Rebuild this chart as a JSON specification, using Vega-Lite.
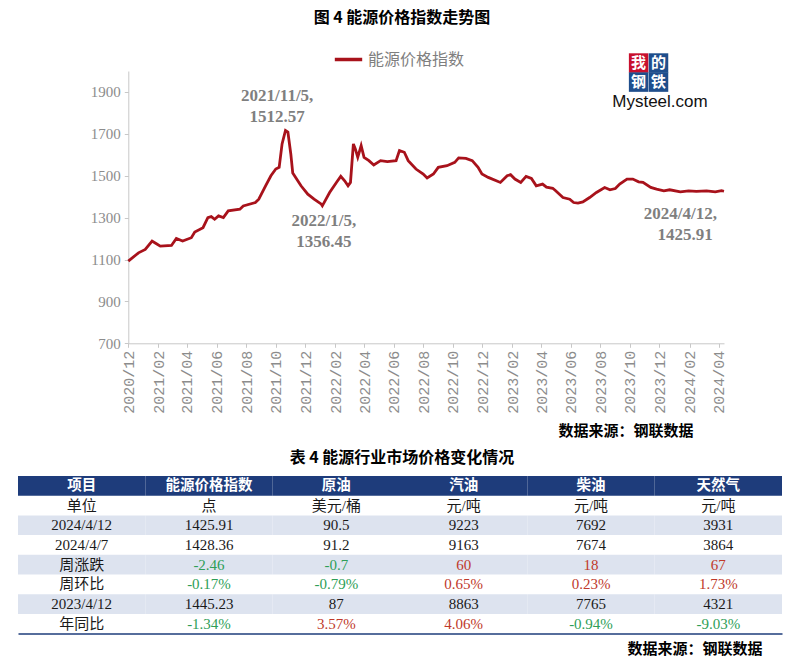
{
  "$schema": "https://vega.github.io/schema/vega-lite/v6.json",
  "width": 804,
  "height": 664,
  "autosize": "none",
  "padding": 0,
  "background": "white",
  "title": {"text": "图 4  能源价格指数走势图", "font": "Noto Sans CJK SC", "fontSize": 16, "fontWeight": "bold", "color": "#000000", "anchor": "middle", "frame": "group", "offset": -26},
  "config": {"view": {"stroke": null}},
  "datasets": {
    "series": [
      {"date": "2020/12/01", "value": 1092}, {"date": "2020/12/22", "value": 1132}, {"date": "2021/01/05", "value": 1148},
      {"date": "2021/01/19", "value": 1188}, {"date": "2021/01/28", "value": 1175}, {"date": "2021/02/05", "value": 1164},
      {"date": "2021/02/28", "value": 1167}, {"date": "2021/03/10", "value": 1200}, {"date": "2021/03/23", "value": 1188},
      {"date": "2021/04/10", "value": 1204}, {"date": "2021/04/17", "value": 1231}, {"date": "2021/05/04", "value": 1252},
      {"date": "2021/05/14", "value": 1300}, {"date": "2021/05/21", "value": 1305}, {"date": "2021/05/28", "value": 1292},
      {"date": "2021/06/05", "value": 1308}, {"date": "2021/06/15", "value": 1300}, {"date": "2021/06/25", "value": 1332},
      {"date": "2021/07/19", "value": 1340}, {"date": "2021/07/26", "value": 1356}, {"date": "2021/08/20", "value": 1372},
      {"date": "2021/08/27", "value": 1388}, {"date": "2021/09/10", "value": 1452}, {"date": "2021/09/21", "value": 1500},
      {"date": "2021/10/01", "value": 1532}, {"date": "2021/10/08", "value": 1540}, {"date": "2021/10/14", "value": 1652},
      {"date": "2021/10/21", "value": 1716}, {"date": "2021/10/26", "value": 1708}, {"date": "2021/11/01", "value": 1604},
      {"date": "2021/11/05", "value": 1512.57}, {"date": "2021/11/22", "value": 1452}, {"date": "2021/12/06", "value": 1412},
      {"date": "2021/12/19", "value": 1388}, {"date": "2022/01/03", "value": 1364}, {"date": "2022/01/05", "value": 1356.45},
      {"date": "2022/01/20", "value": 1420}, {"date": "2022/02/03", "value": 1468}, {"date": "2022/02/12", "value": 1497},
      {"date": "2022/02/20", "value": 1476}, {"date": "2022/02/27", "value": 1452}, {"date": "2022/03/04", "value": 1468},
      {"date": "2022/03/10", "value": 1652}, {"date": "2022/03/14", "value": 1628}, {"date": "2022/03/19", "value": 1588},
      {"date": "2022/03/26", "value": 1644}, {"date": "2022/04/01", "value": 1588}, {"date": "2022/04/11", "value": 1572},
      {"date": "2022/04/21", "value": 1551}, {"date": "2022/05/05", "value": 1572}, {"date": "2022/05/19", "value": 1567},
      {"date": "2022/06/06", "value": 1572}, {"date": "2022/06/13", "value": 1620}, {"date": "2022/06/23", "value": 1612},
      {"date": "2022/07/01", "value": 1572}, {"date": "2022/07/17", "value": 1532}, {"date": "2022/08/01", "value": 1508},
      {"date": "2022/08/09", "value": 1489}, {"date": "2022/08/22", "value": 1508}, {"date": "2022/09/01", "value": 1540},
      {"date": "2022/09/19", "value": 1548}, {"date": "2022/10/05", "value": 1564}, {"date": "2022/10/13", "value": 1585},
      {"date": "2022/10/28", "value": 1583}, {"date": "2022/11/10", "value": 1572}, {"date": "2022/11/22", "value": 1540},
      {"date": "2022/11/30", "value": 1508}, {"date": "2022/12/13", "value": 1492}, {"date": "2023/01/07", "value": 1468},
      {"date": "2023/01/21", "value": 1500}, {"date": "2023/01/28", "value": 1505}, {"date": "2023/02/06", "value": 1484},
      {"date": "2023/02/18", "value": 1468}, {"date": "2023/03/01", "value": 1497}, {"date": "2023/03/12", "value": 1487},
      {"date": "2023/03/22", "value": 1452}, {"date": "2023/04/04", "value": 1460}, {"date": "2023/04/12", "value": 1445.23},
      {"date": "2023/04/25", "value": 1440}, {"date": "2023/05/01", "value": 1428}, {"date": "2023/05/16", "value": 1396},
      {"date": "2023/05/30", "value": 1388}, {"date": "2023/06/07", "value": 1372}, {"date": "2023/06/16", "value": 1369},
      {"date": "2023/06/26", "value": 1375}, {"date": "2023/07/10", "value": 1396}, {"date": "2023/07/24", "value": 1420},
      {"date": "2023/08/10", "value": 1444}, {"date": "2023/08/21", "value": 1433}, {"date": "2023/09/01", "value": 1439},
      {"date": "2023/09/10", "value": 1460}, {"date": "2023/09/25", "value": 1484}, {"date": "2023/10/07", "value": 1484},
      {"date": "2023/10/19", "value": 1471}, {"date": "2023/10/28", "value": 1468}, {"date": "2023/11/13", "value": 1444},
      {"date": "2023/11/25", "value": 1436}, {"date": "2023/12/10", "value": 1428}, {"date": "2023/12/22", "value": 1433},
      {"date": "2024/01/13", "value": 1423}, {"date": "2024/01/30", "value": 1428}, {"date": "2024/02/15", "value": 1425},
      {"date": "2024/03/07", "value": 1428}, {"date": "2024/03/25", "value": 1423}, {"date": "2024/04/07", "value": 1428.36},
      {"date": "2024/04/12", "value": 1425.91}
    ],
    "notes": [
      {"label": "2021/11/5,", "date": "2021/10/04", "value": 1882},
      {"label": "1512.57", "date": "2021/10/04", "value": 1781},
      {"label": "2022/1/5,", "date": "2022/01/08", "value": 1282},
      {"label": "1356.45", "date": "2022/01/08", "value": 1186},
      {"label": "2024/4/12,", "date": "2024/01/13", "value": 1316},
      {"label": "1425.91", "date": "2024/01/23", "value": 1215}
    ],
    "tiles": [
      {"ch": "我", "date": "2023/10/19", "value": 2038, "tone": "red"},
      {"ch": "的", "date": "2023/11/29", "value": 2038, "tone": "blue"},
      {"ch": "钢", "date": "2023/10/19", "value": 1947, "tone": "blue"},
      {"ch": "铁", "date": "2023/11/29", "value": 1947, "tone": "blue"}
    ],
    "brand": [{"brand": "Mysteel.com", "date": "2023/12/02", "value": 1853}],
    "cells": [
      {"row": "项目", "col": "项目", "text": "项目", "tone": "head"},
      {"row": "项目", "col": "能源价格指数", "text": "能源价格指数", "tone": "head"},
      {"row": "项目", "col": "原油", "text": "原油", "tone": "head"},
      {"row": "项目", "col": "汽油", "text": "汽油", "tone": "head"},
      {"row": "项目", "col": "柴油", "text": "柴油", "tone": "head"},
      {"row": "项目", "col": "天然气", "text": "天然气", "tone": "head"},
      {"row": "单位", "col": "项目", "text": "单位", "tone": "plain"},
      {"row": "单位", "col": "能源价格指数", "text": "点", "tone": "plain"},
      {"row": "单位", "col": "原油", "text": "美元/桶", "tone": "plain"},
      {"row": "单位", "col": "汽油", "text": "元/吨", "tone": "plain"},
      {"row": "单位", "col": "柴油", "text": "元/吨", "tone": "plain"},
      {"row": "单位", "col": "天然气", "text": "元/吨", "tone": "plain"},
      {"row": "2024/4/12", "col": "项目", "text": "2024/4/12", "tone": "plain"},
      {"row": "2024/4/12", "col": "能源价格指数", "text": "1425.91", "tone": "plain"},
      {"row": "2024/4/12", "col": "原油", "text": "90.5", "tone": "plain"},
      {"row": "2024/4/12", "col": "汽油", "text": "9223", "tone": "plain"},
      {"row": "2024/4/12", "col": "柴油", "text": "7692", "tone": "plain"},
      {"row": "2024/4/12", "col": "天然气", "text": "3931", "tone": "plain"},
      {"row": "2024/4/7", "col": "项目", "text": "2024/4/7", "tone": "plain"},
      {"row": "2024/4/7", "col": "能源价格指数", "text": "1428.36", "tone": "plain"},
      {"row": "2024/4/7", "col": "原油", "text": "91.2", "tone": "plain"},
      {"row": "2024/4/7", "col": "汽油", "text": "9163", "tone": "plain"},
      {"row": "2024/4/7", "col": "柴油", "text": "7674", "tone": "plain"},
      {"row": "2024/4/7", "col": "天然气", "text": "3864", "tone": "plain"},
      {"row": "周涨跌", "col": "项目", "text": "周涨跌", "tone": "plain"},
      {"row": "周涨跌", "col": "能源价格指数", "text": "-2.46", "tone": "down"},
      {"row": "周涨跌", "col": "原油", "text": "-0.7", "tone": "down"},
      {"row": "周涨跌", "col": "汽油", "text": "60", "tone": "up"},
      {"row": "周涨跌", "col": "柴油", "text": "18", "tone": "up"},
      {"row": "周涨跌", "col": "天然气", "text": "67", "tone": "up"},
      {"row": "周环比", "col": "项目", "text": "周环比", "tone": "plain"},
      {"row": "周环比", "col": "能源价格指数", "text": "-0.17%", "tone": "down"},
      {"row": "周环比", "col": "原油", "text": "-0.79%", "tone": "down"},
      {"row": "周环比", "col": "汽油", "text": "0.65%", "tone": "up"},
      {"row": "周环比", "col": "柴油", "text": "0.23%", "tone": "up"},
      {"row": "周环比", "col": "天然气", "text": "1.73%", "tone": "up"},
      {"row": "2023/4/12", "col": "项目", "text": "2023/4/12", "tone": "plain"},
      {"row": "2023/4/12", "col": "能源价格指数", "text": "1445.23", "tone": "plain"},
      {"row": "2023/4/12", "col": "原油", "text": "87", "tone": "plain"},
      {"row": "2023/4/12", "col": "汽油", "text": "8863", "tone": "plain"},
      {"row": "2023/4/12", "col": "柴油", "text": "7765", "tone": "plain"},
      {"row": "2023/4/12", "col": "天然气", "text": "4321", "tone": "plain"},
      {"row": "年同比", "col": "项目", "text": "年同比", "tone": "plain"},
      {"row": "年同比", "col": "能源价格指数", "text": "-1.34%", "tone": "down"},
      {"row": "年同比", "col": "原油", "text": "3.57%", "tone": "up"},
      {"row": "年同比", "col": "汽油", "text": "4.06%", "tone": "up"},
      {"row": "年同比", "col": "柴油", "text": "-0.94%", "tone": "down"},
      {"row": "年同比", "col": "天然气", "text": "-9.03%", "tone": "down"}
    ],
    "tabletitle": [{"row": "项目", "t": "表 4 能源行业市场价格变化情况"}]
  },
  "layer": [
    {
      "layer": [
        {
          "data": {"name": "series"},
          "mark": {"type": "line", "strokeWidth": 2.8},
          "encoding": {
            "x": {
              "field": "date", "type": "temporal",
              "scale": {"domain": [{"year": 2020, "month": 12, "date": 1}, {"year": 2024, "month": 4, "date": 12}], "range": [128.3, 724]},
              "axis": {
                "orient": "bottom", "offset": -320.7, "grid": false,
                "values": [
                  {"year": 2020, "month": 12, "date": 1},
                  {"year": 2021, "month": 2, "date": 1}, {"year": 2021, "month": 4, "date": 1}, {"year": 2021, "month": 6, "date": 1},
                  {"year": 2021, "month": 8, "date": 1}, {"year": 2021, "month": 10, "date": 1}, {"year": 2021, "month": 12, "date": 1},
                  {"year": 2022, "month": 2, "date": 1}, {"year": 2022, "month": 4, "date": 1}, {"year": 2022, "month": 6, "date": 1},
                  {"year": 2022, "month": 8, "date": 1}, {"year": 2022, "month": 10, "date": 1}, {"year": 2022, "month": 12, "date": 1},
                  {"year": 2023, "month": 2, "date": 1}, {"year": 2023, "month": 4, "date": 1}, {"year": 2023, "month": 6, "date": 1},
                  {"year": 2023, "month": 8, "date": 1}, {"year": 2023, "month": 10, "date": 1}, {"year": 2023, "month": 12, "date": 1},
                  {"year": 2024, "month": 2, "date": 1}, {"year": 2024, "month": 4, "date": 1}
                ],
                "format": "%Y/%m", "labelAngle": -90, "labelFont": "Liberation Mono", "labelFontSize": 15,
                "labelColor": "#8c8c8c", "labelPadding": 3, "labelOverlap": false, "labelFlush": false,
                "tickSize": 4, "tickColor": "#c8c8c8", "domainColor": "#c8c8c8",
                "title": "数据来源：钢联数据", "titleFont": "Noto Sans CJK SC", "titleFontSize": 15, "titleFontWeight": "bold",
                "titleColor": "#000000", "titleX": 693, "titleY": 87, "titleAlign": "right", "titleBaseline": "middle", "titleAnchor": "end"
              }
            },
            "y": {
              "field": "value", "type": "quantitative",
              "scale": {"domain": [700, 2000], "range": [343.3, 71], "nice": false, "zero": false},
              "axis": {
                "orient": "left", "offset": -128.3, "values": [700, 900, 1100, 1300, 1500, 1700, 1900], "format": "d", "grid": false, "title": null,
                "labelFont": "Liberation Serif", "labelFontSize": 15, "labelColor": "#8c8c8c", "labelPadding": 4,
                "tickSize": 4, "tickColor": "#c8c8c8", "domainColor": "#c8c8c8"
              }
            },
            "color": {
              "datum": "能源价格指数", "type": "nominal",
              "scale": {"range": ["#A8121B"]},
              "legend": {
                "orient": "none", "legendX": 333, "legendY": 44, "direction": "horizontal", "title": null,
                "symbolType": "stroke", "symbolStrokeWidth": 3.5, "symbolSize": 750,
                "labelFont": "Noto Sans CJK SC", "labelFontSize": 16, "labelColor": "#7f7f7f", "labelOffset": 4
              }
            }
          }
        },
        {
          "data": {"name": "notes"},
          "mark": {"type": "text", "font": "Liberation Serif", "fontSize": 17, "fontWeight": "bold", "color": "#7f7f7f", "align": "center", "baseline": "middle"},
          "encoding": {
            "x": {"field": "date", "type": "temporal"},
            "y": {"field": "value", "type": "quantitative"},
            "text": {"field": "label"}
          }
        },
        {
          "data": {"name": "tiles"},
          "mark": {"type": "square", "size": 380, "filled": true, "opacity": 1},
          "encoding": {
            "x": {"field": "date", "type": "temporal"},
            "y": {"field": "value", "type": "quantitative"},
            "fill": {"field": "tone", "type": "nominal", "scale": {"domain": ["red", "blue"], "range": ["#C8102E", "#1F4E8C"]}, "legend": null}
          }
        },
        {
          "data": {"name": "tiles"},
          "mark": {"type": "text", "font": "Noto Sans CJK SC", "fontSize": 15, "fontWeight": "bold", "color": "#ffffff", "align": "center", "baseline": "middle"},
          "encoding": {
            "x": {"field": "date", "type": "temporal"},
            "y": {"field": "value", "type": "quantitative"},
            "text": {"field": "ch"}
          }
        },
        {
          "data": {"name": "brand"},
          "mark": {"type": "text", "font": "Liberation Sans", "fontSize": 17, "color": "#111111", "align": "center", "baseline": "middle"},
          "encoding": {
            "x": {"field": "date", "type": "temporal"},
            "y": {"field": "value", "type": "quantitative"},
            "text": {"field": "brand"}
          }
        }
      ]
    },
    {
      "layer": [
        {
          "data": {"name": "cells"},
          "transform": [{"filter": {"field": "row", "equal": "项目"}}],
          "mark": {"type": "rect", "color": "#1E3C7B"},
          "encoding": {
            "x": {
              "field": "col", "type": "nominal",
              "scale": {"type": "band", "domain": ["项目", "能源价格指数", "原油", "汽油", "柴油", "天然气"], "range": [18, 782], "paddingInner": 0, "paddingOuter": 0},
              "axis": {
                "orient": "bottom", "offset": -30.4, "labels": false, "ticks": false, "grid": false,
                "domainColor": "#1E3C7B", "domainWidth": 1.5,
                "title": "数据来源：钢联数据", "titleFont": "Noto Sans CJK SC", "titleFontSize": 15, "titleFontWeight": "bold",
                "titleColor": "#000000", "titleX": 762, "titleY": 15, "titleAlign": "right", "titleBaseline": "middle", "titleAnchor": "end"
              }
            },
            "y": {
              "field": "row", "type": "nominal",
              "scale": {"type": "band", "domain": ["项目", "单位", "2024/4/12", "2024/4/7", "周涨跌", "周环比", "2023/4/12", "年同比"], "range": [476, 633.6], "paddingInner": 0, "paddingOuter": 0},
              "axis": null
            }
          }
        },
        {
          "data": {"name": "cells"},
          "transform": [{"filter": {"field": "row", "oneOf": ["2024/4/12", "周涨跌", "2023/4/12"]}}],
          "mark": {"type": "rect", "color": "#DDE3EF"},
          "encoding": {
            "x": {"field": "col", "type": "nominal"},
            "y": {"field": "row", "type": "nominal", "axis": null}
          }
        },
        {
          "data": {"name": "cells"},
          "transform": [{"filter": {"field": "row", "equal": "项目"}}],
          "mark": {"type": "text", "font": "Noto Sans CJK SC", "fontSize": 14.5, "fontWeight": "bold", "color": "#ffffff", "align": "center", "baseline": "middle"},
          "encoding": {
            "x": {"field": "col", "type": "nominal"},
            "y": {"field": "row", "type": "nominal", "axis": null},
            "text": {"field": "text"}
          }
        },
        {
          "data": {"name": "cells"},
          "transform": [{"filter": "datum.row !== '项目'"}],
          "mark": {"type": "text", "font": "Liberation Serif, Noto Sans CJK SC", "fontSize": 15, "align": "center", "baseline": "middle"},
          "encoding": {
            "x": {"field": "col", "type": "nominal"},
            "y": {"field": "row", "type": "nominal", "axis": null},
            "text": {"field": "text"},
            "color": {"field": "tone", "type": "nominal", "scale": {"domain": ["plain", "up", "down"], "range": ["#1a1a1a", "#C0392B", "#2E9E57"]}, "legend": null}
          }
        },
        {
          "data": {"name": "tabletitle"},
          "mark": {"type": "text", "font": "Noto Sans CJK SC", "fontSize": 16, "fontWeight": "bold", "color": "#000000", "align": "center", "baseline": "middle", "dy": -28},
          "encoding": {
            "y": {"field": "row", "type": "nominal", "axis": null},
            "text": {"field": "t"}
          }
        }
      ]
    }
  ],
  "resolve": {
    "scale": {"x": "independent", "y": "independent", "color": "independent"},
    "axis": {"x": "independent", "y": "independent"}
  }
}
